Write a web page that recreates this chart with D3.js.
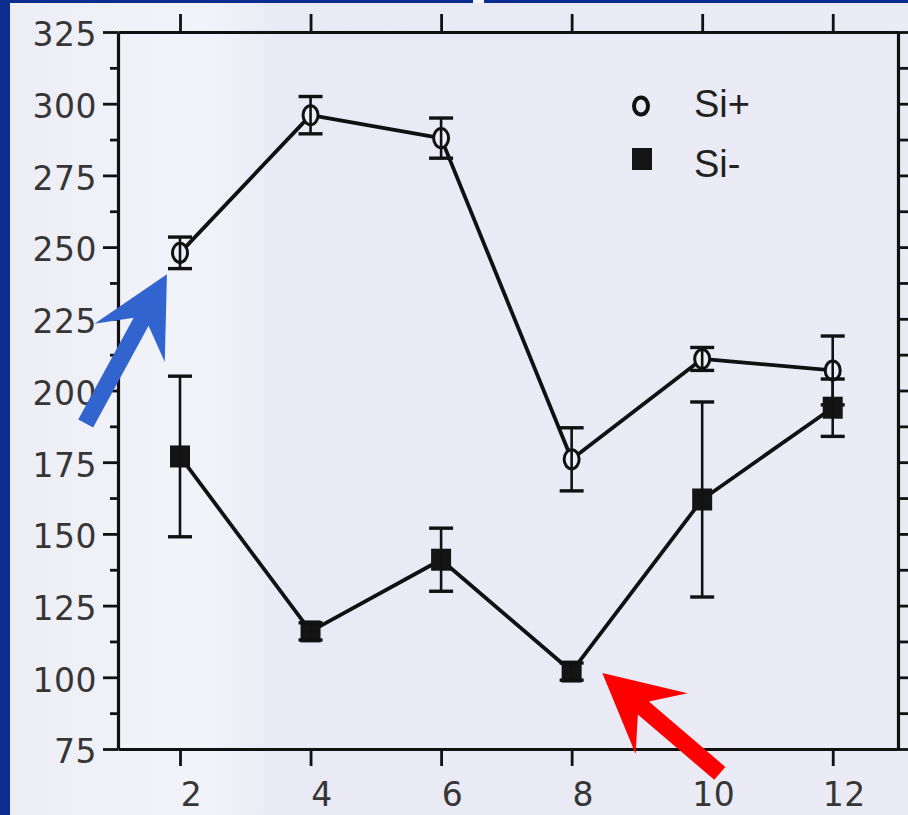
<!DOCTYPE html>
<html>
<head>
<meta charset="utf-8">
<script src="https://cdn.jsdelivr.net/npm/d3@7"></script>
<style>
  html, body { margin: 0; padding: 0; background: #0b2d8e; }
  svg { display: block; }
</style>
</head>
<body>
<svg id="chart" width="908" height="815"></svg>
<script>
// ---- data ----
const xValues = [2, 4, 6, 8, 10, 12];
const siPlus = [248, 296, 288, 176, 211, 207];
const siPlusErr = [5.5, 6.5, 7, 11, 4, 12];
const siMinus = [177, 116, 141, 102, 162, 194];
const siMinusErr = [28, 3, 11, 3, 34, 10];
const yTickValues = [75, 100, 125, 150, 175, 200, 225, 250, 275, 300, 325];
const yMinorValues = [87.5, 112.5, 137.5, 162.5, 187.5, 212.5, 237.5, 262.5, 287.5, 312.5];
const xTickValues = [2, 4, 6, 8, 10, 12];
const legendLabels = ["Si+", "Si-"];

// ---- layout ----
const W = 908, H = 815;
const plot = { left: 118, right: 898, top: 32, bottom: 749 };
const svg = d3.select("#chart");

const x = d3.scaleLinear().domain([1.05, 13]).range([plot.left, plot.right]);
const y = d3.scaleLinear().domain([75, 325]).range([plot.bottom, plot.top]);

// background
svg.append("rect").attr("width", W).attr("height", H).attr("fill", "#0b2d8e");
const defs = svg.append("defs");
const grad = defs.append("linearGradient").attr("id", "paper").attr("x1", "0").attr("x2", "1").attr("y1", "0").attr("y2", "0");
grad.append("stop").attr("offset", "0").attr("stop-color", "#ededf5");
grad.append("stop").attr("offset", "0.13").attr("stop-color", "#f1f1f8");
grad.append("stop").attr("offset", "0.22").attr("stop-color", "#f2f2f9");
grad.append("stop").attr("offset", "0.30").attr("stop-color", "#eaeaf6");
grad.append("stop").attr("offset", "1").attr("stop-color", "#ebebf6");
svg.append("rect").attr("x", 10).attr("y", 3).attr("width", W - 10).attr("height", H - 3).attr("fill", "url(#paper)");
svg.append("rect").attr("x", 473).attr("y", 0).attr("width", 11).attr("height", 3).attr("fill", "#f4f4fa");

const ink = "#111";
const labelFont = "'DejaVu Sans', sans-serif";

// ---- axes ----
function styleAxis(g, w) {
  g.select(".domain").attr("stroke", ink).attr("stroke-width", w);
  g.selectAll(".tick line").attr("stroke", ink).attr("stroke-width", 2.8);
}

// left
const gLeft = svg.append("g").attr("transform", `translate(${plot.left},0)`)
  .call(d3.axisLeft(y).tickValues(yTickValues).tickSize(15).tickPadding(6).tickSizeOuter(0));
styleAxis(gLeft, 3.2);
gLeft.selectAll(".tick text")
  .attr("font-family", labelFont).attr("font-size", 33).attr("fill", "#363636")
  .attr("dy", "0.42em").attr("letter-spacing", 0.5);
const gLeftMinor = svg.append("g").attr("transform", `translate(${plot.left},0)`)
  .call(d3.axisLeft(y).tickValues(yMinorValues).tickSize(8).tickFormat("").tickSizeOuter(0));
gLeftMinor.select(".domain").remove();
styleAxis(gLeftMinor, 0);

// right
const gRight = svg.append("g").attr("transform", `translate(${plot.right},0)`)
  .call(d3.axisRight(y).tickValues(yTickValues.concat(yMinorValues)).tickSize(10).tickFormat("").tickSizeOuter(0));
styleAxis(gRight, 3.2);

// bottom
const gBottom = svg.append("g").attr("transform", `translate(0,${plot.bottom})`)
  .call(d3.axisBottom(x).tickValues(xTickValues).tickSize(17).tickSizeOuter(0));
styleAxis(gBottom, 3.2);
gBottom.selectAll(".tick text")
  .attr("font-family", labelFont).attr("font-size", 33).attr("fill", "#363636")
  .attr("y", 57).attr("dy", 0).attr("dx", 11).attr("letter-spacing", 0.5);

// top
const gTop = svg.append("g").attr("transform", `translate(0,${plot.top})`)
  .call(d3.axisTop(x).tickValues(xTickValues).tickSize(18).tickFormat("").tickSizeOuter(0));
styleAxis(gTop, 3.2);

// ---- series ----
const series = [
  { values: siPlus, errs: siPlusErr, kind: "circle" },
  { values: siMinus, errs: siMinusErr, kind: "square" }
];

const line = d3.line().x(d => x(d.x)).y(d => y(d.v));
series.forEach(s => {
  const pts = xValues.map((xv, i) => ({ x: xv, v: s.values[i], e: s.errs[i] }));
  s.pts = pts;
  svg.append("path").datum(pts).attr("d", line)
    .attr("fill", "none").attr("stroke", ink).attr("stroke-width", 3.8).attr("stroke-linejoin", "round");
});

const capW = 12;
series.forEach(s => {
  const g = svg.append("g");
  if (s.kind === "circle") {
    g.selectAll("ellipse").data(s.pts).join("ellipse")
      .attr("cx", d => x(d.x)).attr("cy", d => y(d.v))
      .attr("rx", 7.5).attr("ry", 9.5)
      .attr("fill", "#eeeef7").attr("stroke", ink).attr("stroke-width", 3);
  } else {
    g.selectAll("rect").data(s.pts).join("rect")
      .attr("x", d => x(d.x) - 10).attr("y", d => y(d.v) - 11)
      .attr("width", 20).attr("height", 22)
      .attr("fill", "#141414");
  }
  const eb = svg.append("g").attr("stroke", ink).attr("stroke-width", 2.6);
  eb.selectAll("line.v").data(s.pts).join("line").attr("class", "v")
    .attr("x1", d => x(d.x)).attr("x2", d => x(d.x))
    .attr("y1", d => y(d.v + d.e)).attr("y2", d => y(d.v - d.e));
  eb.selectAll("line.t").data(s.pts).join("line").attr("class", "t")
    .attr("x1", d => x(d.x) - capW).attr("x2", d => x(d.x) + capW)
    .attr("y1", d => y(d.v + d.e)).attr("y2", d => y(d.v + d.e)).attr("stroke-width", 3.4);
  eb.selectAll("line.b").data(s.pts).join("line").attr("class", "b")
    .attr("x1", d => x(d.x) - capW).attr("x2", d => x(d.x) + capW)
    .attr("y1", d => y(d.v - d.e)).attr("y2", d => y(d.v - d.e)).attr("stroke-width", 3.4);
});

// ---- legend ----
const leg = svg.append("g");
leg.append("ellipse").attr("cx", 641).attr("cy", 106).attr("rx", 7).attr("ry", 8.5)
  .attr("fill", "none").attr("stroke", ink).attr("stroke-width", 4);
leg.append("rect").attr("x", 632).attr("y", 148).attr("width", 20).attr("height", 22).attr("fill", "#141414");
leg.append("text").attr("x", 694).attr("y", 117).text(legendLabels[0])
  .attr("font-family", "'Liberation Sans', Arial, sans-serif").attr("font-size", 38).attr("fill", "#222");
leg.append("text").attr("x", 694).attr("y", 177).text(legendLabels[1])
  .attr("font-family", "'Liberation Sans', Arial, sans-serif").attr("font-size", 38).attr("fill", "#222");

// ---- annotation arrows (anchored in data coordinates) ----
function arrow(tip, tail, color) {
  const [tx, ty] = [x(tip[0]), y(tip[1])];
  const [ex, ey] = [x(tail[0]), y(tail[1])];
  const L = Math.hypot(ex - tx, ey - ty);
  const ux = (ex - tx) / L, uy = (ey - ty) / L;
  const nx = -uy, ny = ux;
  const headLen = 78, headHalf = 40, joint = 54, shaft = 8.5;
  const p = (a, b) => [tx + ux * a + nx * b, ty + uy * a + ny * b];
  const pts = [
    [tx, ty], p(headLen, -headHalf), p(joint, -shaft), p(L, -shaft),
    p(L, shaft), p(joint, shaft), p(headLen, headHalf)
  ];
  svg.append("path").attr("d", "M" + pts.map(q => q.join(",")).join("L") + "Z").attr("fill", color);
}
arrow([1.80, 240.5], [0.555, 188.5], "#3264d0");
arrow([8.47, 101.5], [10.27, 66.5], "#ff0000");
</script>
</body>
</html>
